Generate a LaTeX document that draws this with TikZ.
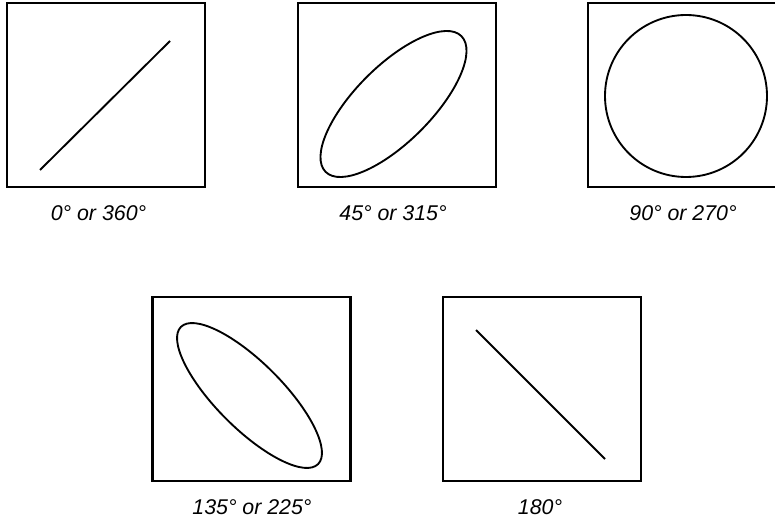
\documentclass[tikz,border=0pt]{standalone}
\usepackage{fontspec}
\setsansfont{Liberation Sans}
\usetikzlibrary{
  calc, % For offsets of the traces
  positioning
}

\begin{document}
\begin{tikzpicture}[
      x=0.75pt, y=-0.75pt, % pixel grid, y pointing down
      trace/.style={line width=1.4pt}, % Style for the traces
      screen/.style={draw, line width=1.6pt, minimum width=148.5pt, minimum height=138pt, inner sep=0pt}, % Style for the screens
      caption/.style={font=\sffamily\itshape\fontsize{16}{19}\selectfont}, % Style for the phase captions
    ]
    \useasboundingbox (0,0) rectangle (775,527);

    % upper row of screens
    \node[screen] (s0) at (106,95) {};
    \node[screen] (s45) at (397,95) {};
    \node[screen] (s90) at (687,95) {};

    % lower row of screens
    \node[screen] (s135) at (251.5,389) {};
    \node[screen] (s180) at (542,389) {};

    % centres of the ellipses
    \coordinate (e45) at ($(s45.center)+(-3.5,9)$);
    \coordinate (e135) at ($(s135.center)+(-2,6.5)$);

    % traces
    \draw[trace] (s0.center) ++(-66,75) -- ++(130,-129);
    \draw[trace, rotate around={45:(e45)}] (e45) ellipse [x radius=96, y radius=38];
    \draw[trace] (s90.center) ++(-1,1) circle [radius=81];
    \draw[trace, rotate around={-45:(e135)}] (e135) ellipse [x radius=97, y radius=33];
    \draw[trace] (s180.center) ++(-66,-59) -- ++(129,129);

    % captions
    \node[caption] (c0) at (98.5,213) {0° or 360°};
    \node[caption] (c45) at (393,213) {45° or 315°};
    \node[caption] (c90) at (683,213) {90° or 270°};
    \node[caption] (c135) at (252,507) {135° or 225°};
    \node[caption] (c180) at (540,507) {180°};

  \end{tikzpicture}
\end{document}
